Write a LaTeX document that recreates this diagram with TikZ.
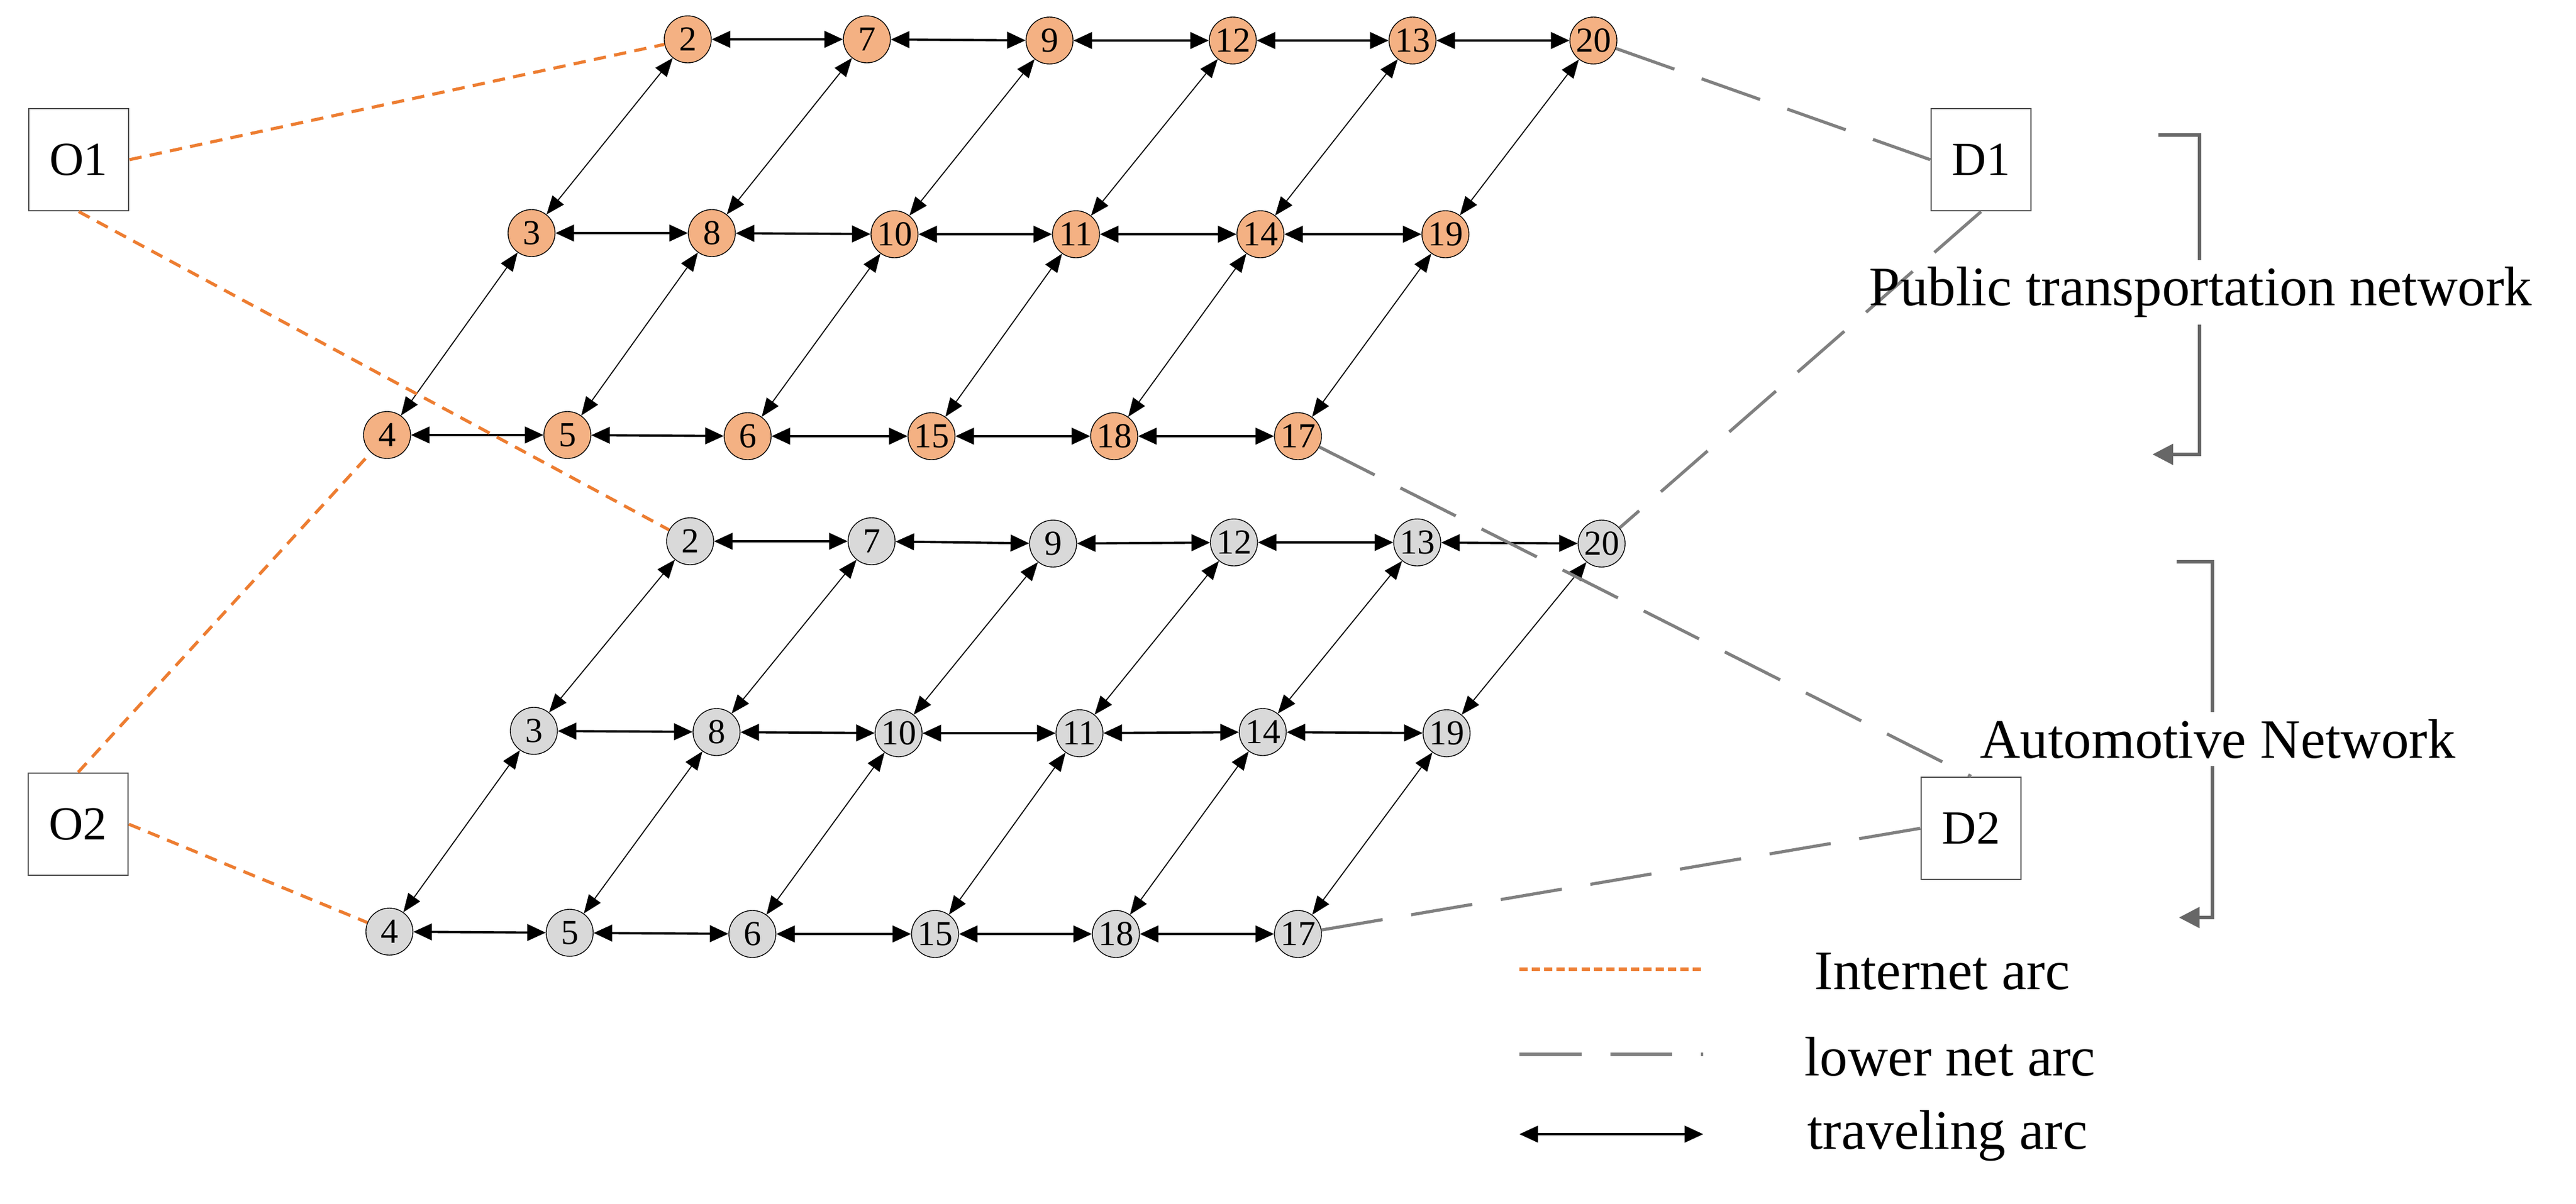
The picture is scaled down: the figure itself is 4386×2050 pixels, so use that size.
\documentclass[tikz,border=0pt]{standalone}
\usepackage{fontspec}
\setmainfont{Liberation Serif}
\usetikzlibrary{arrows.meta}
\definecolor{pubfill}{HTML}{F4B183}
\definecolor{carfill}{HTML}{D9D9D9}
\definecolor{netorange}{HTML}{ED7D31}
\definecolor{lowgray}{HTML}{808080}
\tikzset{
  stop/.style={circle,draw=black,inner sep=0pt,minimum size=0.8cm,font=\fontsize{17}{17}\selectfont},
  pub/.style={stop,fill=pubfill},
  car/.style={stop,fill=carfill},
  odbox/.style={draw=black!70,thick,minimum width=1.7cm,minimum height=1.74cm,font=\fontsize{23}{23}\selectfont},
  travel/.style={{Triangle[length=9pt,width=8pt]}-{Triangle[length=9pt,width=8pt]},line width=1.1pt},
  climb/.style={{Triangle[length=9pt,width=7pt]}-{Triangle[length=9pt,width=7pt]},line width=0.5pt},
  internet/.style={netorange,line width=1.5pt,dash pattern=on 6pt off 4pt},
  lower/.style={lowgray,line width=1.5pt,dash pattern=on 30pt off 14pt},
  label/.style={font=\fontsize{27}{30}\selectfont}
}
\begin{document}
\begin{tikzpicture}[x=0.01cm,y=-0.01cm]
\useasboundingbox (0,0) rectangle (4386,2050);
% public transportation layer
\foreach \n/\x/\y in {2/1171/67,7/1476/67,9/1787/69,12/2099/69,13/2405/69,20/2713/69,
  3/905/397,8/1212/397,10/1523/399,11/1832/399,14/2146/399,19/2461/399,
  4/659/741,5/966/741,6/1273/743,15/1586/743,18/1897/743,17/2210/743}
  \node[pub] (u\n) at (\x,\y) {\n};
% automotive layer
\foreach \n/\x/\y in {2/1175/922,7/1484/922,9/1793/926,12/2101/924,13/2413/924,20/2727/926,
  3/909/1245,8/1220/1247,10/1530/1249,11/1838/1249,14/2150/1247,19/2463/1249,
  4/663/1587,5/970/1589,6/1281/1591,15/1592/1591,18/1900/1591,17/2210/1591}
  \node[car] (l\n) at (\x,\y) {\n};
\node[odbox] (O1) at (134,272) {O1};
\node[odbox] (D1) at (3373,272) {D1};
\node[odbox] (O2) at (133,1404) {O2};
\node[odbox] (D2) at (3356,1411) {D2};
% traveling arcs
\foreach \l in {u,l}{
  \foreach \a/\b in {2/7,7/9,9/12,12/13,13/20,3/8,8/10,10/11,11/14,14/19,4/5,5/6,6/15,15/18,18/17}
    \draw[travel] (\l\a) -- (\l\b);
  \foreach \a/\b in {2/3,7/8,9/10,12/11,13/14,20/19,3/4,8/5,10/6,11/15,14/18,19/17}
    \draw[climb] (\l\a) -- (\l\b);
}
% access arcs
\draw[internet] (O1.east) -- (u2);
\draw[internet] (O1.south) -- (l2);
\draw[internet] (O2.north) -- (u4);
\draw[internet] (O2.east) -- (l4);
\draw[lower] (u20) -- (D1.west);
\draw[lower] (D1.south) -- (l20);
\draw[lower] (u17) -- (D2.north);
\draw[lower] (l17) -- (D2.west);
% layer brackets
\node[label] (pubnet) at (3747,498) {Public transportation network};
\node[label] (carnet) at (3776,1259) {Automotive Network};
\draw[lowgray!80!black,line width=1.5pt,-{Triangle[length=10pt,width=10pt]}] (3675,230) -- (3745,230) -- (pubnet.north -| 3745,0) (pubnet.south -| 3745,0) -- (3745,774) -- (3665,774);
\draw[lowgray!80!black,line width=1.5pt,-{Triangle[length=10pt,width=10pt]}] (3706,957) -- (3767,957) -- (carnet.north -| 3767,0) (carnet.south -| 3767,0) -- (3767,1563) -- (3710,1563);
% legend
\coordinate (k1a) at (2587,1651); \coordinate (k1b) at (2900,1651);
\coordinate (k2a) at (2587,1796); \coordinate (k2b) at (2900,1796);
\coordinate (k3a) at (2587,1932); \coordinate (k3b) at (2900,1932);
\draw[internet,dash pattern=on 4pt off 2pt] (k1a) -- (k1b);
\draw[lower] (k2a) -- (k2b);
\draw[travel] (k3a) -- (k3b);
\node[label,anchor=west] at (3077,1655) {Internet arc};
\node[label,anchor=west] at (3060,1800) {lower net arc};
\node[label,anchor=west] at (3065,1935) {traveling arc};
\end{tikzpicture}
\end{document}
